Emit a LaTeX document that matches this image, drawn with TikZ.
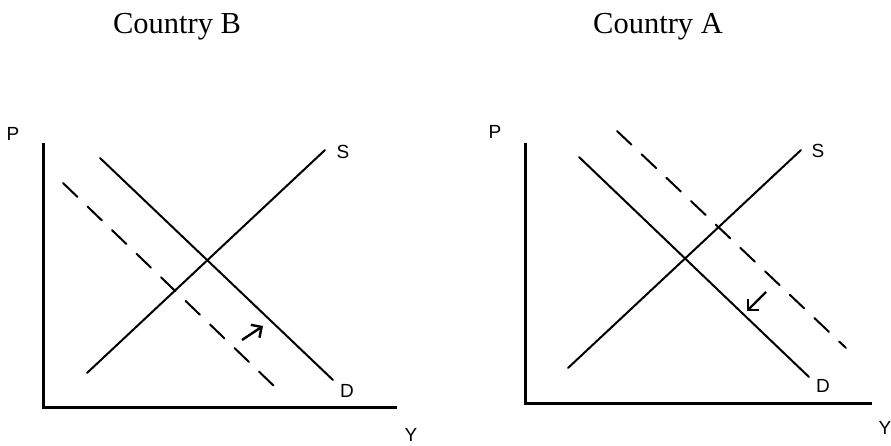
\documentclass[tikz,border=0pt]{standalone}
\usepackage{fontspec}
\setmainfont{Liberation Serif}
\setsansfont{Liberation Sans}
\usetikzlibrary{arrows.meta}

\begin{document}
\begin{tikzpicture}[x=1pt,y=-1pt,
        axis/.style={line width=3pt, line join=miter},
        curve/.style={line width=2pt, line cap=round},
        shifted/.style={curve, dash pattern=on 20pt off 14pt},
        shiftarrow/.style={line width=2.4pt, -{Straight Barb[angle=90:11pt, line cap=butt]}},
        lbl/.style={anchor=base, inner sep=0pt, font=\sffamily\fontsize{19}{19}\selectfont},
        ttl/.style={anchor=base, inner sep=0pt, font=\fontsize{30.5}{30.5}\selectfont}]
            \useasboundingbox (0,0) rectangle (891,445);

            % Country B
            \node[ttl] (titleB) at (177,33) {Country B};
            \coordinate (axBtop) at (43,143);
            \coordinate (axBo) at (43,407);
            \coordinate (axBend) at (397,407);
            \draw[axis] (axBtop) -- (axBo) -- (axBend);
            \node[lbl] (pB) at (13,140) {P};
            \node[lbl] (yB) at (411,441) {Y};

            \coordinate (sBlo) at (87,373);
            \coordinate (sBhi) at (325,150);
            \draw[curve] (sBlo) -- (sBhi);
            \node[lbl] (sB) at (343,158) {S};

            \coordinate (dBhi) at (100,158);
            \coordinate (dBlo) at (333,380);
            \draw[curve] (dBhi) -- (dBlo);
            \node[lbl] (dB) at (347,397) {D};

            \coordinate (dBnewhi) at (63,183);
            \coordinate (dBnewlo) at (275,387);
            \draw[shifted] (dBnewhi) -- (dBnewlo);

            \coordinate (arBfrom) at (242,340);
            \coordinate (arBto) at (263,326);
            \draw[shiftarrow] (arBfrom) -- (arBto);

            % Country A
            \node[ttl] (titleA) at (658,33) {Country A};
            \coordinate (axAtop) at (525,143);
            \coordinate (axAo) at (525,403);
            \coordinate (axAend) at (872,403);
            \draw[axis] (axAtop) -- (axAo) -- (axAend);
            \node[lbl] (pA) at (495,138) {P};
            \node[lbl] (yA) at (885,434) {Y};

            \coordinate (sAlo) at (568,368);
            \coordinate (sAhi) at (801,150);
            \draw[curve] (sAlo) -- (sAhi);
            \node[lbl] (sA) at (818,157) {S};

            \coordinate (dAhi) at (579,157);
            \coordinate (dAlo) at (809,377);
            \draw[curve] (dAhi) -- (dAlo);
            \node[lbl] (dA) at (823,392) {D};

            \coordinate (dAoldhi) at (617,131);
            \coordinate (dAoldlo) at (846,348);
            \draw[shifted] (dAoldhi) -- (dAoldlo);

            \coordinate (arAfrom) at (766,292);
            \coordinate (arAto) at (747,311);
            \draw[shiftarrow] (arAfrom) -- (arAto);
\end{tikzpicture}
\end{document}
